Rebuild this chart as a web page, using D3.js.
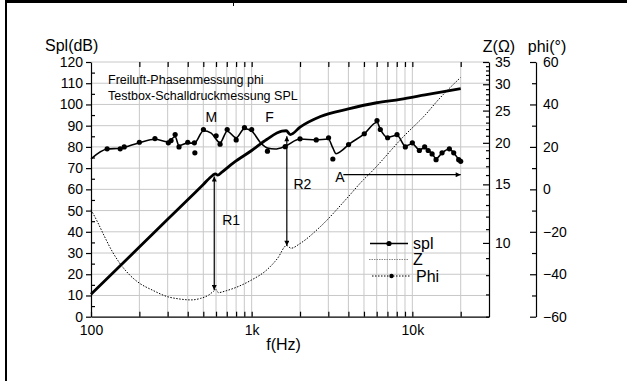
<!DOCTYPE html>
<html>
<head>
<meta charset="utf-8">
<script src="https://cdn.jsdelivr.net/npm/d3@7"></script>
<style>
  body { margin: 0; background: #fff; }
  svg { display: block; }
  text { font-family: "Liberation Sans", Arial, sans-serif; fill: #000; }
</style>
</head>
<body>
<div id="chart"></div>
<script>
// --- data ---
// spl measurement points (Hz, dB)
const splFreq = [126, 152, 161, 200, 250, 303, 315, 334, 353, 400, 440, 443, 501, 601, 636, 704, 801, 902, 1000,
  1254, 1617, 2000, 2523, 3010, 3200, 4010, 5022, 6026, 6320, 7016, 8030, 9044, 10000, 11058, 11930, 12550,
  13270, 14050, 15310, 17000, 18090, 19430, 20000];
const splDots = [79.1, 79.1, 80, 82.2, 83.9, 81.9, 83, 85.8, 80, 82.2, 81.9, 77.2, 88.2, 85.2, 81.3, 88.2, 83.3, 89.1, 88.2,
  78, 80.1, 83.8, 83.3, 84.3, 74.3, 81.1, 86.2, 92.4, 88.2, 84.3, 85.8, 80, 81.9, 78.3, 80, 78.3,
  76.7, 74, 77.2, 79.1, 77.2, 74, 73.2];
// smoothed spl curve (Hz, dB)
const splLineFreq = [100, 126, 152, 200, 250, 300, 334, 353, 400, 440, 501, 560, 636, 704, 801, 902, 1000, 1150, 1254, 1400,
  1617, 2000, 2523, 3000, 3200, 3350, 3600, 4010, 5022, 6026, 6320, 7016, 8030, 9044, 10000, 11058, 11930, 12550,
  13270, 14050, 15310, 17000, 18090, 19430, 20000];
const splLine = [74.4, 79, 79.4, 82, 83.6, 82.4, 84.8, 80.6, 81.8, 81.8, 87.6, 86.5, 82, 87.4, 84.3, 88.6, 87.4, 81.5, 79.5, 79,
  80.3, 83.7, 83.3, 83.7, 79.5, 76.8, 78, 81.1, 86.1, 91.6, 88.3, 84.5, 85.5, 80.4, 81.5, 78.6, 79.6, 78.4,
  76.8, 74.5, 77.2, 79, 77.2, 74.2, 73.4];
// impedance (Hz, ohm)
const zFreq = [100, 110, 120, 135, 150, 175, 200, 240, 300, 350, 420, 480, 540, 580, 600, 620, 700, 800, 1000, 1240, 1450, 1650,
  1760, 2000, 2680, 3930, 4970, 5456, 8820, 12060, 14570, 19900];
const zOhm = [12.58, 11.54, 10.57, 9.46, 8.73, 7.99, 7.57, 7.22, 6.89, 6.79, 6.74, 6.81, 6.97, 7.16, 7.24, 7.09, 7.19, 7.35, 7.74, 8.29, 8.99, 9.82,
  9.64, 9.96, 11.2, 13.65, 15.5, 16.2, 20.9, 24.3, 27.0, 31.4];
// phase (Hz, degree)
const phiFreq = [100, 200, 300, 400, 500, 570, 595, 615, 650, 770, 1000, 1240, 1540, 1640, 1740, 2000, 2680, 4000, 6000,
  8400, 12000, 16000, 20000];
const phiDeg = [-49.4, -27.2, -14.1, -4.9, 2.3, 6.5, 7.3, 6.7, 8.0, 12.5, 18.3, 23.5, 27.4, 27.6, 25.8, 29.3, 34.3, 37.9, 40.8,
  42.4, 44.5, 46.2, 47.4];

// ticks
const freqMajor = [100, 1000, 10000];
const freqLabels = ["100", "1k", "10k"];
const freqMinor = [200, 300, 400, 500, 600, 700, 800, 900, 2000, 3000, 4000, 5000, 6000, 7000, 8000, 9000, 20000];
const splTicks = d3.range(0, 121, 10);
const splMinor = d3.range(5, 120, 10);
const zMajor = [10, 15, 20, 25, 30, 35];
const zMinor = d3.range(6, 36).filter(v => !zMajor.includes(v));
const phiMajor = [-60, -40, -20, 0, 20, 40, 60];
const phiMinor = [-50, -30, -10, 10, 30, 50];

// annotations
const arrows = [
  { f0: 585, v0: 66.1, f1: 585, v1: 12.6, both: true },
  { f0: 1655, v0: 85.0, f1: 1655, v1: 33.4, both: true },
  { f0: 3720, v0: 66.9, f1: 20000, v1: 66.9, both: false }
];
const marks = [
  { text: "M", f: 560, v: 91.5, anchor: "middle" },
  { text: "F", f: 1290, v: 91.5, anchor: "middle" },
  { text: "R1", f: 656, v: 43.3, anchor: "start" },
  { text: "R2", f: 1819, v: 60.3, anchor: "start" },
  { text: "A", f: 3315, v: 63.6, anchor: "start" }
];
const notes = ["Freiluft-Phasenmessung phi", "Testbox-Schalldruckmessung SPL"];
const legendItems = ["spl", "Z", "Phi"];

const W = 627, H = 381;
const margin = { top: 62, left: 91 };
const width = 398, height = 254.7;

const svg = d3.select("#chart").append("svg")
  .attr("width", W).attr("height", H);

// frame
svg.append("rect").attr("x", 5).attr("y", 0).attr("width", W - 5).attr("height", 3).attr("fill", "#000");
svg.append("rect").attr("x", 5).attr("y", 0).attr("width", 2).attr("height", H).attr("fill", "#000");
svg.append("line").attr("x1", 233.5).attr("x2", 233.5).attr("y1", 0).attr("y2", 6)
  .attr("stroke", "#000").attr("stroke-width", 1);

const defs = svg.append("defs");
defs.append("marker").attr("id", "head")
  .attr("viewBox", "0 0 10 10").attr("refX", 10).attr("refY", 5)
  .attr("markerWidth", 8).attr("markerHeight", 5).attr("markerUnits", "userSpaceOnUse")
  .attr("orient", "auto-start-reverse")
  .append("path").attr("d", "M0,0L10,5L0,10Z").attr("fill", "#000");

const g = svg.append("g").attr("transform", `translate(${margin.left},${margin.top})`);

const x = d3.scaleLog().domain([100, 30000]).range([0, width]);
const y = d3.scaleLinear().domain([0, 120]).range([height, 0]);
const yZ = d3.scaleLog().domain([6, 35]).range([height, 0]);
const yP = d3.scaleLinear().domain([-60, 60]).range([height, 0]);

// grid
g.append("g").selectAll("line").data(freqMinor.concat([1000, 10000])).join("line")
  .attr("x1", d => x(d)).attr("x2", d => x(d)).attr("y1", 0).attr("y2", height)
  .attr("stroke", "#c8c8c8").attr("stroke-width", 1);
g.append("g").selectAll("line").data(splTicks.slice(1)).join("line")
  .attr("x1", 0).attr("x2", width).attr("y1", d => y(d)).attr("y2", d => y(d))
  .attr("stroke", "#c8c8c8").attr("stroke-width", 1);

// axes
function styleAxis(sel) {
  sel.selectAll("path").attr("stroke", "#000").attr("stroke-width", 1.2);
  sel.selectAll("line").attr("stroke", "#000").attr("stroke-width", 1.2);
  sel.selectAll("text").style("font-size", "14px").attr("fill", "#000");
}

g.append("g").call(d3.axisLeft(y).tickValues(splTicks).tickSize(5).tickSizeOuter(0).tickPadding(3))
  .call(styleAxis);
g.append("g").call(d3.axisRight(y).tickValues(splMinor).tickSize(4).tickFormat(""))
  .call(s => s.select(".domain").remove()).call(styleAxis);

g.append("g").attr("transform", `translate(0,${height})`)
  .call(d3.axisTop(x).tickValues(freqMinor.concat(freqMajor)).tickSize(5).tickFormat("").tickSizeOuter(0))
  .call(styleAxis);
g.append("g").attr("transform", `translate(0,${height})`)
  .call(d3.axisBottom(x).tickValues(freqMajor).tickSize(0).tickPadding(8)
    .tickFormat((d, i) => freqLabels[i]))
  .call(s => s.select(".domain").remove()).call(styleAxis);
g.append("g")
  .call(d3.axisBottom(x).tickValues(freqMinor.concat(freqMajor.slice(1))).tickSize(5).tickFormat(""))
  .call(s => s.select(".domain").remove()).call(styleAxis);

g.append("g").attr("transform", `translate(${width},0)`)
  .call(d3.axisLeft(yZ).tickValues(zMajor).tickSize(6).tickSizeOuter(0).tickFormat(""))
  .call(styleAxis);
g.append("g").attr("transform", `translate(${width},0)`)
  .call(d3.axisLeft(yZ).tickValues(zMinor).tickSize(3).tickFormat(""))
  .call(s => s.select(".domain").remove()).call(styleAxis);
g.append("g").attr("transform", `translate(${width},0)`)
  .call(d3.axisRight(yZ).tickValues(zMajor).tickSize(0).tickPadding(6).tickFormat(d3.format("d")))
  .call(s => s.select(".domain").remove()).call(styleAxis);

const phiX = width + 47;
g.append("g").attr("transform", `translate(${phiX},0)`)
  .call(d3.axisLeft(yP).tickValues(phiMajor).tickSize(6).tickSizeOuter(0).tickFormat(""))
  .call(styleAxis);
g.append("g").attr("transform", `translate(${phiX},0)`)
  .call(d3.axisLeft(yP).tickValues(phiMinor).tickSize(4).tickFormat(""))
  .call(s => s.select(".domain").remove()).call(styleAxis);
g.append("g").attr("transform", `translate(${phiX},0)`)
  .call(d3.axisRight(yP).tickValues(phiMajor).tickSize(0).tickPadding(7))
  .call(s => s.select(".domain").remove()).call(styleAxis);

// axis titles
g.append("text").attr("x", -46).attr("y", -11).style("font-size", "16px").text("Spl(dB)");
g.append("text").attr("x", width + 10).attr("y", -10).attr("text-anchor", "middle").style("font-size", "16px").text("Z(\u03A9)");
g.append("text").attr("x", phiX + 11).attr("y", -10).attr("text-anchor", "middle").style("font-size", "16px").text("phi(\u00B0)");
g.append("text").attr("x", x(1580)).attr("y", height + 33).attr("text-anchor", "middle").style("font-size", "16px").text("f(Hz)");

// notes
g.selectAll(".note").data(notes).join("text").attr("class", "note")
  .attr("x", x(127.6)).attr("y", (d, i) => y(i === 0 ? 109.4 : 102))
  .style("font-size", "12.5px").text(d => d);

// curves
const zLine = d3.line().x(d => x(d[0])).y(d => yZ(d[1])).curve(d3.curveMonotoneX);
g.append("path").datum(d3.zip(zFreq, zOhm)).attr("d", zLine)
  .attr("fill", "none").attr("stroke", "#000").attr("stroke-width", 1).attr("stroke-dasharray", "1.5,1.5");

const phiLine = d3.line().x(d => x(d[0])).y(d => yP(d[1])).curve(d3.curveMonotoneX);
g.append("path").datum(d3.zip(phiFreq, phiDeg)).attr("d", phiLine)
  .attr("fill", "none").attr("stroke", "#000").attr("stroke-width", 2.8).attr("stroke-linejoin", "round");

const splPath = d3.line().x(d => x(d[0])).y(d => y(d[1])).curve(d3.curveMonotoneX);
g.append("path").datum(d3.zip(splLineFreq, splLine)).attr("d", splPath)
  .attr("fill", "none").attr("stroke", "#000").attr("stroke-width", 1.6);
g.append("g").selectAll("circle").data(d3.zip(splFreq, splDots)).join("circle")
  .attr("cx", d => x(d[0])).attr("cy", d => y(d[1])).attr("r", 2.6).attr("fill", "#000");

// arrows and labels
g.append("g").selectAll("line").data(arrows).join("line")
  .attr("x1", d => x(d.f0)).attr("y1", d => y(d.v0)).attr("x2", d => x(d.f1)).attr("y2", d => y(d.v1))
  .attr("stroke", "#000").attr("stroke-width", 1.2)
  .attr("marker-end", "url(#head)")
  .attr("marker-start", d => d.both ? "url(#head)" : null);
g.append("g").selectAll("text").data(marks).join("text")
  .attr("x", d => x(d.f)).attr("y", d => y(d.v)).attr("text-anchor", d => d.anchor)
  .style("font-size", "14px").text(d => d.text);

// legend
const lg = svg.append("g").attr("transform", "translate(368,243)");
lg.selectAll("text").data(legendItems).join("text")
  .attr("x", (d, i) => i === 2 ? 48 : 45).attr("y", (d, i) => 6 + i * 16.3)
  .style("font-size", "16px").text(d => d);
lg.append("line").attr("x1", 2).attr("x2", 40).attr("y1", 0.5).attr("y2", 0.5)
  .attr("stroke", "#000").attr("stroke-width", 1.6);
lg.append("circle").attr("cx", 21).attr("cy", 0.5).attr("r", 2.6);
lg.append("line").attr("x1", 1).attr("x2", 40).attr("y1", 16.5).attr("y2", 16.5)
  .attr("stroke", "#888").attr("stroke-width", 1).attr("stroke-dasharray", "1.5,1");
lg.append("line").attr("x1", 4).attr("x2", 43).attr("y1", 33).attr("y2", 33)
  .attr("stroke", "#000").attr("stroke-width", 1).attr("stroke-dasharray", "1.5,1.5");
lg.append("circle").attr("cx", 23.5).attr("cy", 33).attr("r", 2.2);
</script>
</body>
</html>
